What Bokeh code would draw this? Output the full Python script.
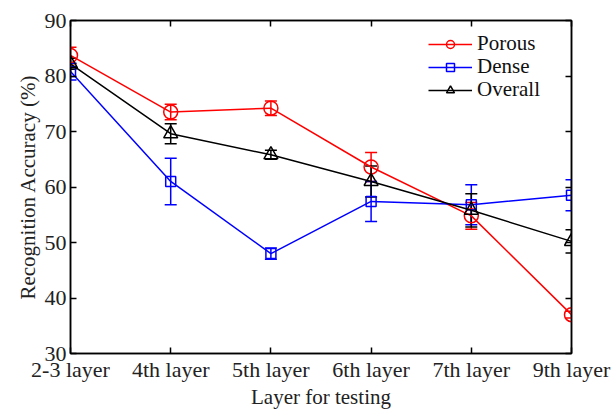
from bokeh.plotting import figure
from bokeh.models import (ColumnDataSource, Whisker, TeeHead, Range1d, FixedTicker,
                          LinearAxis, Legend, LegendItem, CustomLabelingPolicy)
from bokeh.embed import file_html
from bokeh.resources import INLINE

categories = ["2-3 layer", "4th layer", "5th layer", "6th layer", "7th layer", "9th layer"]
porous = [83.7, 73.5, 74.2, 63.6, 54.8, 37.0]
porous_err = [1.5, 1.4, 1.3, 2.6, 2.4, 0.6]
dense = [80.8, 61.0, 48.0, 57.4, 56.8, 58.5]
dense_err = [1.5, 4.2, 1.0, 3.6, 3.6, 2.8]
overall = [82.2, 69.6, 65.8, 61.0, 55.8, 50.2]
overall_err = [1.0, 1.8, 0.8, 2.8, 3.0, 2.1]
y_ticks = [30, 40, 50, 60, 70, 80, 90]

FONT = "Liberation Serif"
xs = list(range(1, len(categories) + 1))

p = figure(width=611, height=411, output_backend="svg", toolbar_location=None,
           x_range=Range1d(1, 6), y_range=Range1d(30, 90),
           min_border_left=70, min_border_right=40, min_border_top=20, min_border_bottom=58)
p.frame_width = 501
p.frame_height = 333
p.xgrid.visible = False
p.ygrid.visible = False
p.outline_line_color = "black"
p.outline_line_width = 1.5
p.background_fill_color = "white"
p.border_fill_color = "white"

for ax in (p.xaxis[0], p.yaxis[0]):
    ax.axis_line_color = "black"
    ax.axis_line_width = 1.5
    ax.major_tick_in = 6
    ax.major_tick_out = 0
    ax.minor_tick_line_color = None
    ax.major_tick_line_width = 1.5
    ax.major_label_text_font = FONT
    ax.major_label_text_font_size = "22px"
    ax.major_label_text_color = "#222222"
    ax.axis_label_text_font = FONT
    ax.axis_label_text_font_size = "21px"
    ax.axis_label_text_font_style = "normal"
    ax.axis_label_text_color = "#222222"

p.xaxis[0].ticker = FixedTicker(ticks=xs)
p.xaxis[0].major_label_overrides = {x: c for x, c in zip(xs, categories)}
p.xaxis[0].axis_label = "Layer for testing"
p.xaxis[0].axis_label_standoff = 0
p.xaxis[0].major_label_standoff = 3
p.yaxis[0].ticker = FixedTicker(ticks=y_ticks)
p.yaxis[0].axis_label = "Recognition Accuracy (%)"
p.yaxis[0].major_label_standoff = 4
p.yaxis[0].axis_label_standoff = 2

hide = CustomLabelingPolicy(code="""
try { indices.clear() } catch (e) {
  for (let i = 0; i < indices.size; i++) { indices.unset(i) }
}
return indices
""")

top = LinearAxis(ticker=FixedTicker(ticks=xs), major_label_policy=hide,
                 major_tick_in=6, major_tick_out=0, minor_tick_line_color=None,
                 axis_line_width=1.5, major_tick_line_width=1.5)
right = LinearAxis(ticker=FixedTicker(ticks=y_ticks), major_label_policy=hide,
                   major_tick_in=6, major_tick_out=0, minor_tick_line_color=None,
                   axis_line_width=1.5, major_tick_line_width=1.5)
p.add_layout(top, "above")
p.add_layout(right, "right")

series = [
    ("Porous", porous, porous_err, "#ff0000", "circle", 14),
    ("Dense", dense, dense_err, "#0000ff", "square", 10),
    ("Overall", overall, overall_err, "black", "triangle", 14),
]
legend_y = [297, 274, 251]

for (name, vals, errs, color, marker, size), ly in zip(series, legend_y):
    src = ColumnDataSource(dict(x=xs, y=vals,
                                lo=[v - e for v, e in zip(vals, errs)],
                                hi=[v + e for v, e in zip(vals, errs)]))
    w = Whisker(base="x", lower="lo", upper="hi", source=src,
                line_color=color, line_width=1.5,
                upper_head=TeeHead(size=12, line_color=color, line_width=1.5),
                lower_head=TeeHead(size=12, line_color=color, line_width=1.5))
    p.add_layout(w)
    ln = p.line("x", "y", source=src, line_color=color, line_width=1.5)
    mk = p.scatter("x", "y", source=src, marker=marker, size=size,
                   fill_color=None, line_color=color, line_width=1.5)
    legend = Legend(items=[LegendItem(label=name, renderers=[ln, mk])],
                    location=(358, ly), padding=0, margin=0, spacing=0,
                    glyph_width=44, glyph_height=20, label_height=20, label_standoff=5,
                    label_text_font=FONT, label_text_font_size="21px",
                    label_text_color="#111111",
                    border_line_color=None, background_fill_alpha=0)
    p.add_layout(legend)

open("out.html", "w").write(file_html(p, INLINE))
